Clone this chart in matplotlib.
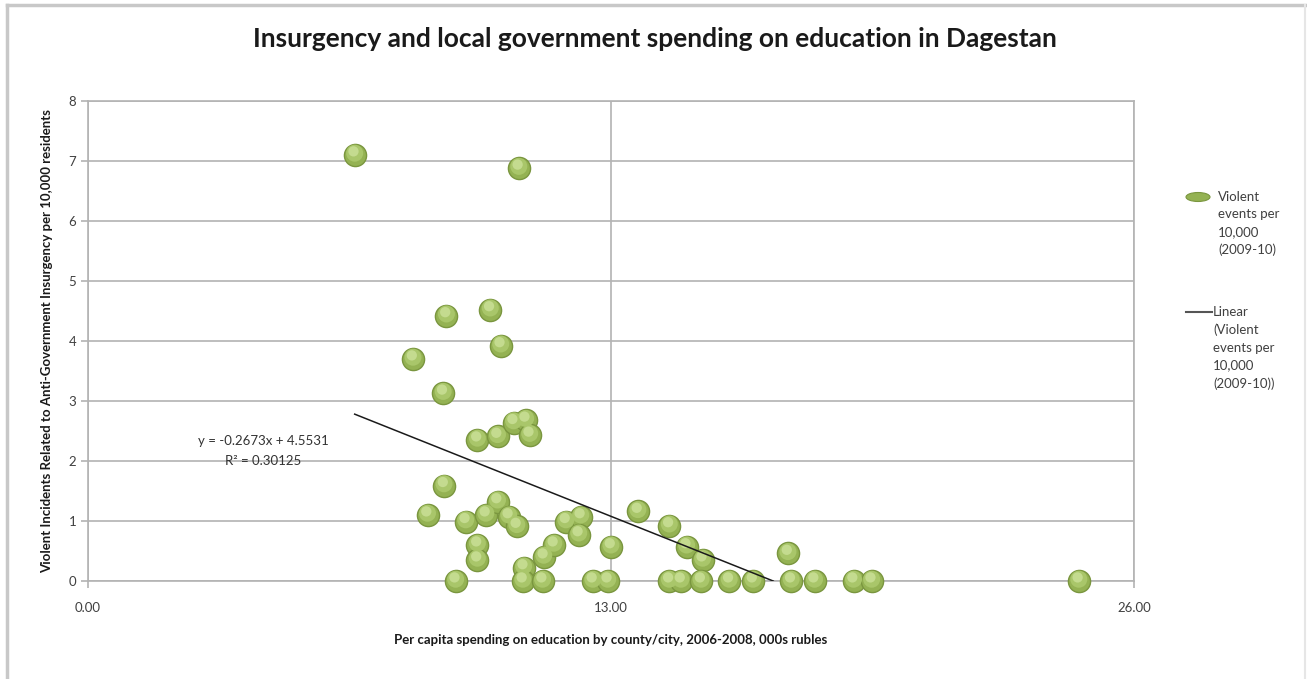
import matplotlib.pyplot as plt
from matplotlib.lines import Line2D
from matplotlib.patches import Ellipse

plt.rcParams['font.family'] = ['Lato', 'DejaVu Sans']

# Per capita spending (000s rubles) and violent events per 10,000 residents
spending = [6.63, 10.71, 8.91, 10.00, 10.26, 8.08, 8.83, 9.68, 10.18, 10.58,
            10.88, 10.98, 8.85, 8.44, 9.39, 9.89, 10.18, 10.46, 10.66, 9.68,
            9.68, 10.83, 11.33, 11.58, 11.88, 12.25, 12.20, 13.00, 13.67, 14.45,
            14.88, 15.28, 17.40,
            9.14, 10.81, 11.30, 12.55, 12.92, 14.45, 14.74, 15.24, 15.94, 16.53,
            17.48, 18.06, 19.03, 19.48, 24.63]
events = [7.10, 6.88, 4.42, 4.52, 3.92, 3.70, 3.13, 2.35, 2.41, 2.64,
          2.68, 2.43, 1.59, 1.10, 0.99, 1.10, 1.32, 1.07, 0.91, 0.60,
          0.35, 0.22, 0.40, 0.60, 0.99, 1.07, 0.77, 0.57, 1.16, 0.92,
          0.57, 0.35, 0.46,
          0, 0, 0, 0, 0, 0, 0, 0, 0, 0,
          0, 0, 0, 0, 0]

# Linear trendline as reported on the chart
slope = -0.2673
intercept = 4.5531
r2 = 0.30125

x_ticks = [0, 13, 26]
y_ticks = [0, 1, 2, 3, 4, 5, 6, 7, 8]

fig = plt.figure(figsize=(13.07, 6.79), dpi=100)
ax = fig.add_axes([0.0673, 0.1443, 0.8003, 0.707])

grid_c = '#b3b3b3'
ax.set_xlim(0, 26)
ax.set_ylim(0, 8)
ax.set_xticks(x_ticks)
ax.set_xticklabels(['%.2f' % v for v in x_ticks])
ax.set_yticks(y_ticks)
ax.grid(True, color=grid_c, lw=1.2)
ax.set_axisbelow(True)
for s in ax.spines.values():
    s.set_color(grid_c)
    s.set_linewidth(1.2)
ax.tick_params(colors=grid_c, labelcolor='#404040', labelsize=9.5, length=5, width=1.2)
ax.tick_params(axis='x', pad=10)

# sphere-like markers: base + soft highlight
ax.scatter(spending, events, s=255, color='#94b253', edgecolors='#7a963f',
           linewidths=1.0, zorder=3, clip_on=False)
ax.scatter(spending, [y + 0.03 for y in events], s=150,
           color='#a9c66a', edgecolors='none', zorder=4, clip_on=False)
ax.scatter([x - 0.03 for x in spending], [y + 0.06 for y in events], s=55,
           color='#c4db8f', edgecolors='none', zorder=4, clip_on=False)

# trendline from smallest x to where it hits zero
x0 = min(spending)
x1 = -intercept / slope
ax.plot([x0, x1], [slope * x0 + intercept, 0], color='#1a1a1a', lw=1.1, zorder=5)

ax.text(4.35, 2.33, 'y = -0.2673x + 4.5531', fontsize=9.5, ha='center', va='center', color='#333333')
ax.text(4.35, 2.0, 'R² = 0.30125', fontsize=9.5, ha='center', va='center', color='#333333')

fig.text(0.501, 0.942, 'Insurgency and local government spending on education in Dagestan',
         ha='center', va='center', fontsize=19, fontweight='bold', color='#1a1a1a')
fig.text(0.4675, 0.057, 'Per capita spending on education by county/city, 2006-2008, 000s rubles',
         ha='center', va='center', fontsize=9.5, fontweight='bold', color='#1a1a1a')
fig.text(0.036, 0.498, 'Violent Incidents Related to Anti-Government Insurgency per 10,000 residents',
         ha='center', va='center', rotation=90, fontsize=9.5, fontweight='bold', color='#1a1a1a')

# legend drawn by hand
W, H = 1307.0, 679.0
fig.add_artist(Ellipse((1198 / W, 1 - 197 / H), 24 / W, 9 / H, transform=fig.transFigure,
                       facecolor='#94b253', edgecolor='#7a963f', lw=0.8))
fig.text(1218 / W, 1 - 191 / H, 'Violent\nevents per\n10,000\n(2009-10)', fontsize=9.5,
         va='top', ha='left', color='#404040', linespacing=1.55)
fig.add_artist(Line2D([1186 / W, 1212 / W], [1 - 312 / H, 1 - 312 / H],
                      transform=fig.transFigure, color='#555555', lw=1.5))
fig.text(1213 / W, 1 - 306 / H, 'Linear\n(Violent\nevents per\n10,000\n(2009-10))', fontsize=9.5,
         va='top', ha='left', color='#404040', linespacing=1.55)

# outer frame
fig.add_artist(Line2D([7 / W, 7 / W], [0, 1 - 5 / H], transform=fig.transFigure,
                      color='#c8c8c8', lw=2.5))
fig.add_artist(Line2D([7 / W, 1305 / W], [1 - 5 / H, 1 - 5 / H], transform=fig.transFigure,
                      color='#c8c8c8', lw=2.5))
fig.add_artist(Line2D([1305 / W, 1305 / W], [0, 1 - 5 / H], transform=fig.transFigure,
                      color='#e6e6e6', lw=1.5))

fig.savefig('out.png', dpi=100)
